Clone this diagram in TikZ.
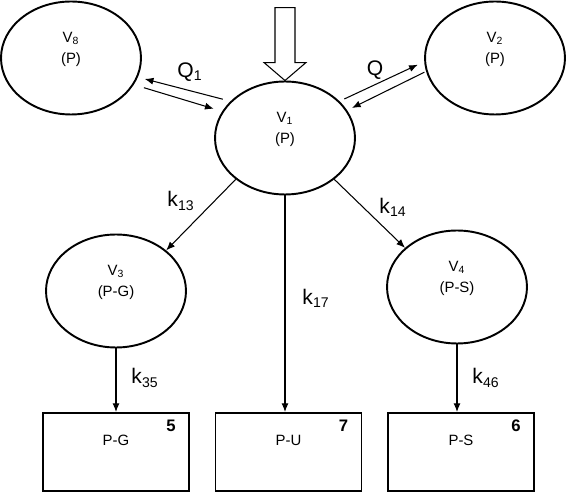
\documentclass[tikz,border=0pt]{standalone}
\usepackage{fontspec}
\setmainfont{Liberation Sans}
\usetikzlibrary{calc,shapes.geometric,arrows.meta}

\tikzset{
	pool/.style={draw, ellipse, line width=1.1pt, minimum width=2.8cm, minimum height=2.26cm, inner sep=0pt, align=center, font=\fontsize{8.5}{12}\selectfont},
	sink/.style={draw, rectangle, line width=1.1pt, minimum width=2.92cm, minimum height=1.56cm, inner sep=0pt},
	flow/.style={-{Latex[length=5pt,width=4pt]}, line width=0.6pt},
	rate/.style={font=\fontsize{12}{14}\selectfont},
	tag/.style={font=\fontsize{8.5}{10}\selectfont},
	num/.style={font=\bfseries\fontsize{9.5}{11}\selectfont}
}

\begin{document}
\begin{tikzpicture}[x=0.02cm, y=-0.02cm]
			%%%%% START %%%%%
			\useasboundingbox (0,0) rectangle (567,492);
			
			\node[pool] (V8) at (71,58) {V\textsubscript{8}\\(P)\\\mbox{}};
			\node[pool] (V1) at (285,138) {V\textsubscript{1}\\(P)\\\mbox{}};
			\node[pool] (V2) at (495,58) {V\textsubscript{2}\\(P)\\\mbox{}};
			\node[pool] (V3) at (116,291) {V\textsubscript{3}\\(P-G)\\\mbox{}};
			\node[pool] (V4) at (457,287) {V\textsubscript{4}\\(P-S)\\\mbox{}};
			
			\node[sink] (PG) at (116,452) {};
			\node[sink] (PU) at (288.5,452) {};
			\node[sink] (PS) at (461,452) {};
			\node[tag] (PGt) at ([shift={(0,-12)}]PG) {P-G};
			\node[tag] (PUt) at ([shift={(0,-12)}]PU) {P-U};
			\node[tag] (PSt) at ([shift={(0,-12)}]PS) {P-S};
			\node[num] (PGn) at ([shift={(-19,14)}]PG.north east) {5};
			\node[num] (PUn) at ([shift={(-19,14)}]PU.north east) {7};
			\node[num] (PSn) at ([shift={(-19,14)}]PS.north east) {6};
			
			% input
			\begin{scope}[shift={(V1.north)}]
				\draw[line width=0.6pt] (0,0) -- (-21,-18) -- (-10,-18) -- (-10,-73) -- (10,-73) -- (10,-18) -- (21,-18) -- cycle;
			\end{scope}
			
			% exchange
			\draw[flow, shorten <=4.5pt, shorten >=4pt] (V1.146) -- (V8.-16);
			\draw[flow, shorten <=6pt, shorten >=5pt] (V8.-23) -- (V1.157);
			\draw[flow, shorten <=3pt, shorten >=4pt] (V1.34) -- (V2.183);
			\draw[flow, shorten <=1pt, shorten >=3pt] (V2.191) -- (V1.24);
			\node[rate] (Q1) at (190,72) {Q\textsubscript{1}};
			\node[rate] (Q) at (375,70) {Q};
			
			% transfers
			\draw[flow] (V1.220) -- (V3.39);
			\draw[flow] (V1.-40) -- (V4.143);
			\draw[flow] (V1.south) -- (V1.south |- PU.north);
			\draw[flow] (V3.south) -- (V3.south |- PG.north);
			\draw[flow] (V4.south) -- (V4.south |- PS.north);
			\node[rate] (k13) at (181,201) {k\textsubscript{13}};
			\node[rate] (k14) at (393,207) {k\textsubscript{14}};
			\node[rate] (k17) at (316,298) {k\textsubscript{17}};
			\node[rate] (k35) at (145,378) {k\textsubscript{35}};
			\node[rate] (k46) at (486,378) {k\textsubscript{46}};
			
			%%%%% END %%%%%
\end{tikzpicture}
\end{document}
